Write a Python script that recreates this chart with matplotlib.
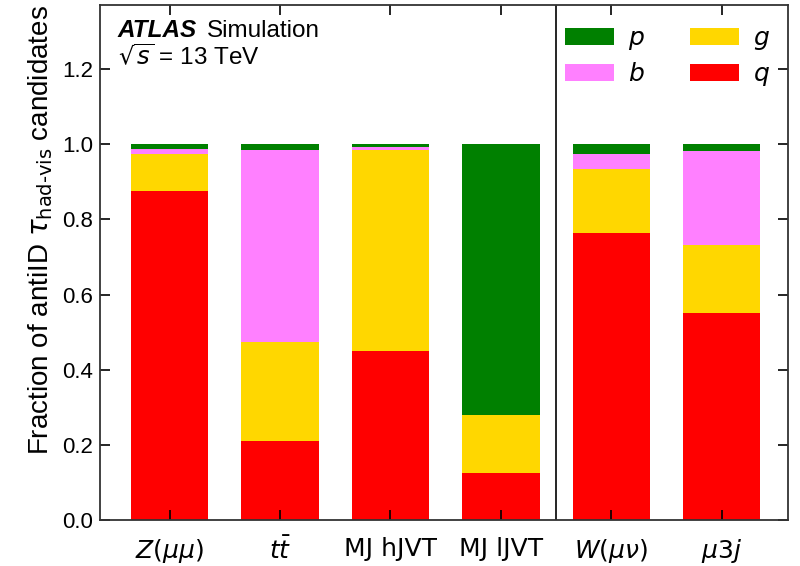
#
# Fractions of antiID tau candidates by parton origin
#

import numpy as np
import matplotlib.pyplot as plt

# Categories and stacked fractions (bottom to top: q, g, b, p)
samples = [r"$Z(\mu\mu)$", r"$t\bar{t}$", "MJ hJVT", "MJ lJVT",
           r"$W(\mu\nu)$", r"$\mu 3j$"]
frac_q = [0.875, 0.210, 0.450, 0.125, 0.765, 0.550]
frac_g = [0.098, 0.265, 0.535, 0.155, 0.168, 0.183]
frac_b = [0.015, 0.510, 0.007, 0.000, 0.040, 0.250]
frac_p = [0.012, 0.015, 0.008, 0.720, 0.027, 0.017]

plt.rcParams['font.family'] = ['Liberation Sans', 'DejaVu Sans']

fig = plt.figure(figsize=(8, 5.66), dpi=100)
ax = fig.add_axes([0.125, 0.081, 0.86, 0.910])

x = np.arange(len(samples))
w = 0.7
q = np.array(frac_q)
g = np.array(frac_g)
b = np.array(frac_b)
p = np.array(frac_p)

bq = ax.bar(x, q, w, color="#ff0000", label="$q$")
bg = ax.bar(x, g, w, bottom=q, color="#ffd700", label="$g$")
bb = ax.bar(x, b, w, bottom=q + g, color="#ff80ff", label="$b$")
bp = ax.bar(x, p, w, bottom=q + g + b, color="#008000", label="$p$")

# separator between the two groups of samples
ax.axvline(3.5, color="black", lw=1.2)

ax.set_xlim(-0.63, 5.6)
ax.set_ylim(0, 1.37)
ax.set_xticks(x)
ax.set_xticklabels(samples, fontsize=18, family="DejaVu Sans")
ax.set_yticks(np.arange(0, 1.21, 0.2))
ax.set_yticklabels([f"{v:.1f}" for v in np.arange(0, 1.21, 0.2)], fontsize=16)
ax.tick_params(axis="both", direction="in", length=7, width=1.2,
               top=True, right=True)
ax.tick_params(axis="x", pad=12)
ax.tick_params(axis="y", pad=5)
for s in ax.spines.values():
    s.set_linewidth(1.3)
    s.set_color("#333333")

ax.set_ylabel(r"Fraction of antiID $\tau_{\mathrm{had‐vis}}$ candidates",
              fontsize=20, loc="top")
ax.yaxis.set_label_coords(-0.066, 1.0)

ax.text(0.026, 0.938, "ATLAS", transform=ax.transAxes, fontsize=17.5,
        fontweight="bold", fontstyle="italic", va="baseline")
ax.text(0.1555, 0.938, "Simulation", transform=ax.transAxes, fontsize=17.5,
        va="baseline")
ax.text(0.026, 0.8835, r"$\sqrt{s}$ = 13 TeV", transform=ax.transAxes,
        fontsize=17.5, va="baseline")

ax.legend(handles=[bp, bb, bg, bq], ncol=2, loc="upper left",
          bbox_to_anchor=(0.676, 0.959), frameon=False, fontsize=18,
          handlelength=1.96, handleheight=0.68, labelspacing=0.4,
          columnspacing=1.8, handletextpad=0.56, borderpad=0, borderaxespad=0)

plt.savefig("out.png")
